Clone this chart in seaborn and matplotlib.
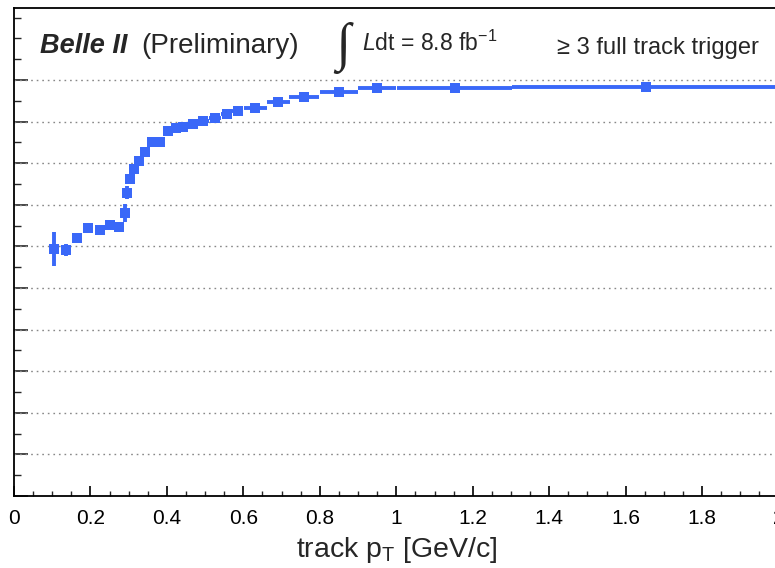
import numpy as np
import pandas as pd
import matplotlib
matplotlib.use("Agg")
import matplotlib.pyplot as plt
from matplotlib.ticker import MultipleLocator, FixedLocator, FixedFormatter
import seaborn as sns

# ---- data ----
pt = [0.105, 0.136, 0.165, 0.193, 0.226, 0.251, 0.275, 0.290, 0.2955, 0.303,
      0.313, 0.326, 0.342, 0.360, 0.382, 0.4035, 0.4236, 0.4427, 0.467, 0.495,
      0.526, 0.556, 0.585, 0.631, 0.691, 0.759, 0.851, 0.950, 1.153, 1.653]
pt_err = [0.010, 0.010, 0.012, 0.013, 0.013, 0.012, 0.010, 0.004, 0.003, 0.004,
          0.005, 0.007, 0.008, 0.010, 0.012, 0.010, 0.010, 0.010, 0.014, 0.015,
          0.015, 0.015, 0.015, 0.030, 0.030, 0.040, 0.050, 0.050, 0.150, 0.350]
eff = [0.594, 0.591, 0.619, 0.643, 0.639, 0.652, 0.647, 0.681, 0.729, 0.761,
       0.786, 0.805, 0.828, 0.852, 0.852, 0.878, 0.884, 0.886, 0.893, 0.902,
       0.909, 0.919, 0.925, 0.933, 0.948, 0.960, 0.972, 0.981, 0.981, 0.984]
eff_err = [0.040, 0.015, 0.010, 0.008, 0.008, 0.008, 0.008, 0.022, 0.015, 0.012,
           0.010, 0.008, 0.007, 0.006, 0.005, 0.005, 0.005, 0.004, 0.004, 0.004,
           0.004, 0.003, 0.003, 0.003, 0.003, 0.002, 0.002, 0.002, 0.002, 0.001]
x_tick_vals = [0, 0.2, 0.4, 0.6, 0.8, 1.0, 1.2, 1.4, 1.6, 1.8, 2.0]
x_tick_labels = ["0", "0.2", "0.4", "0.6", "0.8", "1", "1.2", "1.4", "1.6", "1.8", "2"]

df = pd.DataFrame({"pt": pt, "eff": eff})
blue = "#3a68f8"

sns.set_theme(style="ticks")
plt.rcParams["font.family"] = ["Liberation Sans", "DejaVu Sans"]
plt.rcParams["mathtext.fontset"] = "custom"
plt.rcParams["mathtext.rm"] = "Liberation Sans"
plt.rcParams["mathtext.it"] = "Liberation Sans:italic"
plt.rcParams["mathtext.bf"] = "Liberation Sans:bold"

fig = plt.figure(figsize=(7.75, 5.68), dpi=100)
ax = fig.add_axes([14/775, 1-496/568, 764.6/775, 488/568])

ax.errorbar(pt, eff, xerr=pt_err, yerr=eff_err, fmt="none", ecolor=blue,
            elinewidth=2.8, capsize=0, zorder=3)
sns.scatterplot(data=df, x="pt", y="eff", marker="s", s=58, color=blue,
                edgecolor=blue, linewidth=0, ax=ax, zorder=4)

ax.set_xlim(0, 2.0)
ax.set_ylim(0, 1.173)

ax.xaxis.set_major_locator(FixedLocator(x_tick_vals))
ax.xaxis.set_major_formatter(FixedFormatter(x_tick_labels))
ax.xaxis.set_minor_locator(MultipleLocator(0.05))
ax.yaxis.set_major_locator(FixedLocator([0.1*i for i in range(11)]))
ax.yaxis.set_minor_locator(MultipleLocator(0.05))
ax.set_yticklabels([])

ax.tick_params(axis="x", which="major", direction="in", length=7, width=1.2,
               labelsize=15, pad=9, top=False, colors="black")
ax.tick_params(axis="x", which="minor", direction="in", length=3.5, width=1.0, top=False)
ax.tick_params(axis="y", which="major", direction="in", length=10, width=1.2, right=False)
ax.tick_params(axis="y", which="minor", direction="in", length=5, width=1.0, right=False)

for s in ["left", "bottom", "top", "right"]:
    ax.spines[s].set_linewidth(1.3)
    ax.spines[s].set_color("black")

for v in [0.1*i for i in range(1, 11)]:
    ax.axhline(v, color="#888888", lw=1.0, ls=(0, (1.2, 2.8)), zorder=1)

ax.set_xlabel("")
ax.set_ylabel("")

fig.text(397/775, 1-557/568, r"track p$_{\mathregular{T}}$ [GeV/c]", fontsize=20.5,
         ha="center", va="baseline")

fig.text(40/775, 1-53/568, "Belle II", fontsize=19.5, fontweight="bold",
         fontstyle="italic", ha="left", va="baseline")
fig.text(141/775, 1-53/568, "(Preliminary)", fontsize=20, ha="left", va="baseline")
fig.text(335/775, 1-74/568, "\u222b", fontsize=38, family=["Liberation Serif", "DejaVu Serif"],
         fontstyle="italic", fontweight="bold", ha="left", va="bottom")
fig.text(361.7/775, 1-51/568, r"$\mathit{L}$dt = 8.8 fb$^{\mathregular{-1}}$", fontsize=16.6,
         ha="left", va="baseline")
fig.text(556.7/775, 1-54/568, "\u2265 3 full track trigger", fontsize=17,
         ha="left", va="baseline")

fig.savefig("out.png", dpi=100)
